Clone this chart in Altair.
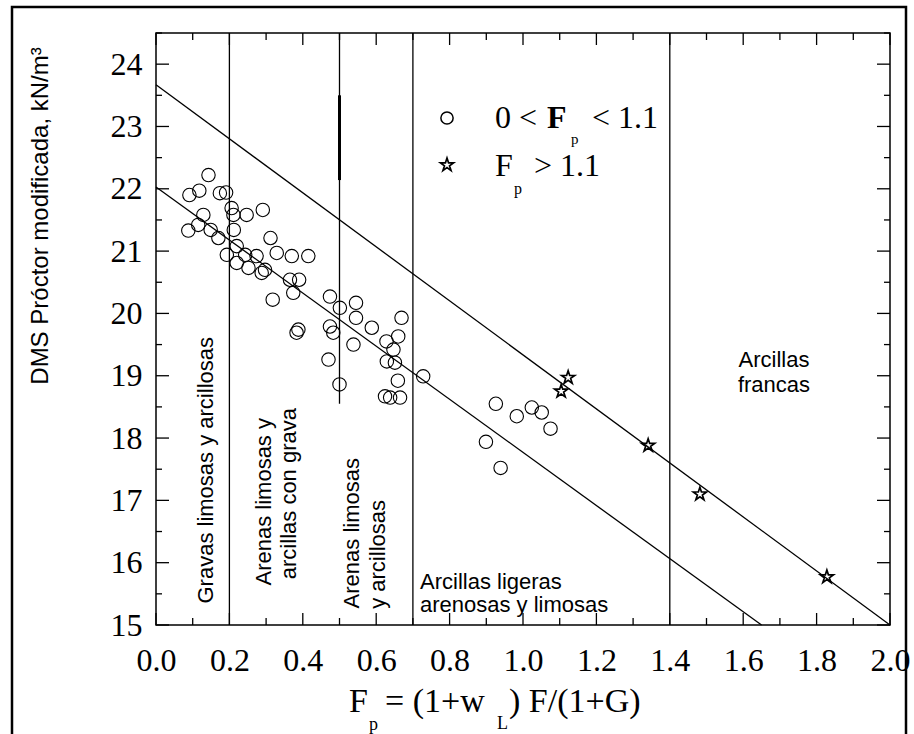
import altair as alt
import pandas as pd

# ---- data ----
circle_x = [0.143, 0.091, 0.118, 0.174, 0.191, 0.129, 0.088, 0.115, 0.149, 0.170,
            0.206, 0.211, 0.247, 0.291, 0.212, 0.193, 0.220, 0.220, 0.243, 0.252,
            0.274, 0.288, 0.297, 0.312, 0.329, 0.370, 0.415, 0.365, 0.390, 0.374,
            0.318, 0.474, 0.501, 0.545, 0.545, 0.669, 0.588, 0.474, 0.483, 0.388,
            0.383, 0.628, 0.660, 0.538, 0.470, 0.500, 0.647, 0.629, 0.651, 0.659,
            0.624, 0.638, 0.665, 0.728, 0.926, 0.899, 0.939, 0.983, 1.024, 1.051,
            1.075]
circle_y = [22.22, 21.90, 21.97, 21.93, 21.94, 21.58, 21.33, 21.42, 21.34, 21.21,
            21.69, 21.58, 21.58, 21.66, 21.34, 20.94, 21.08, 20.81, 20.94, 20.73,
            20.92, 20.65, 20.70, 21.21, 20.97, 20.92, 20.92, 20.54, 20.54, 20.33,
            20.22, 20.27, 20.09, 20.17, 19.93, 19.93, 19.77, 19.79, 19.69, 19.74,
            19.69, 19.55, 19.63, 19.50, 19.26, 18.86, 19.42, 19.23, 19.21, 18.92,
            18.67, 18.65, 18.65, 18.99, 18.55, 17.94, 17.52, 18.35, 18.49, 18.41,
            18.15]
star_x = [1.123, 1.104, 1.341, 1.482, 1.828]
star_y = [18.97, 18.75, 17.88, 17.10, 15.77]

upper_fit_x = [0.0, 2.0]
upper_fit_y = [23.67, 15.0]
lower_fit_x = [0.0, 1.65]
lower_fit_y = [22.03, 15.0]

zone_x = [0.2, 0.7, 1.4]
partial_x = [0.5]
partial_y0 = [18.55]
partial_y1 = [24.5]
thick_y0 = [22.14]
thick_y1 = [23.5]

x_ticks = [0.0, 0.2, 0.4, 0.6, 0.8, 1.0, 1.2, 1.4, 1.6, 1.8, 2.0]
x_minor = [0.1, 0.3, 0.5, 0.7, 0.9, 1.1, 1.3, 1.5, 1.7, 1.9]
y_ticks = [15, 16, 17, 18, 19, 20, 21, 22, 23, 24]
y_minor = [15.5, 16.5, 17.5, 18.5, 19.5, 20.5, 21.5, 22.5, 23.5, 24.5]

W, H = 734, 592
L, T = 156, 33
SERIF = "Liberation Serif"
SANS = "Liberation Sans"
STAR = ("M0,-1L0.2245,-0.309L0.9511,-0.309L0.3633,0.118L0.5878,0.809L0,0.382"
        "L-0.5878,0.809L-0.3633,0.118L-0.9511,-0.309L-0.2245,-0.309Z")

xs = alt.Scale(domain=[0, 2], nice=False, zero=False)
ys = alt.Scale(domain=[15, 24.5], nice=False, zero=False)

base_axes = alt.Chart(pd.DataFrame({"x": [0.0, 2.0], "y": [15.0, 24.5]})).mark_point(
    opacity=0, size=1
).encode(
    x=alt.X("x:Q", scale=xs, axis=alt.Axis(values=x_ticks, format=".1f", title=None, orient="bottom",
            ticks=False, domain=False, grid=False, labelFont=SERIF, labelFontSize=32,
            labelColor="black", labelPadding=20, labelFlush=False, labelOverlap=False)),
    y=alt.Y("y:Q", scale=ys, axis=alt.Axis(values=y_ticks, format="d", title=None, orient="left",
            ticks=False, domain=False, grid=False, labelFont=SERIF, labelFontSize=32,
            labelColor="black", labelPadding=14, labelFlush=False, labelOverlap=False)),
)

circles = alt.Chart(pd.DataFrame({"x": circle_x, "y": circle_y})).mark_point(
    shape="circle", size=180, filled=False, color="black", strokeWidth=1.1, opacity=1
).encode(x=alt.X("x:Q", scale=xs), y=alt.Y("y:Q", scale=ys))

stars = alt.Chart(pd.DataFrame({"x": star_x, "y": star_y})).mark_point(
    shape=STAR, size=190, filled=False, color="black", strokeWidth=1.7, opacity=1
).encode(x=alt.X("x:Q", scale=xs), y=alt.Y("y:Q", scale=ys))

upper = alt.Chart(pd.DataFrame({"x": upper_fit_x, "y": upper_fit_y})).mark_line(
    color="black", strokeWidth=1.3).encode(x=alt.X("x:Q", scale=xs), y=alt.Y("y:Q", scale=ys))
lower = alt.Chart(pd.DataFrame({"x": lower_fit_x, "y": lower_fit_y})).mark_line(
    color="black", strokeWidth=1.3).encode(x=alt.X("x:Q", scale=xs), y=alt.Y("y:Q", scale=ys))

zones = alt.Chart(pd.DataFrame({"x": zone_x})).mark_rule(color="black", strokeWidth=1.3).encode(
    x=alt.X("x:Q", scale=xs), y=alt.value(0), y2=alt.value(H))
partial = alt.Chart(pd.DataFrame({"x": partial_x, "y0": partial_y0, "y1": partial_y1})).mark_rule(
    color="black", strokeWidth=1.3).encode(
    x=alt.X("x:Q", scale=xs), y=alt.Y("y0:Q", scale=ys), y2="y1:Q")
thick = alt.Chart(pd.DataFrame({"x": partial_x, "y0": thick_y0, "y1": thick_y1})).mark_rule(
    color="black", strokeWidth=3).encode(
    x=alt.X("x:Q", scale=xs), y=alt.Y("y0:Q", scale=ys), y2="y1:Q")


def xtick_layer(vals, length, top):
    ya, yb = (0, length) if top else (H, H - length)
    return alt.Chart(pd.DataFrame({"v": vals})).mark_rule(color="black", strokeWidth=1.3).encode(
        x=alt.X("v:Q", scale=xs), y=alt.value(ya), y2=alt.value(yb))


def ytick_layer(vals, length, right):
    xa, xb = (W, W - length) if right else (0, length)
    return alt.Chart(pd.DataFrame({"v": vals})).mark_rule(color="black", strokeWidth=1.3).encode(
        y=alt.Y("v:Q", scale=ys), x=alt.value(xa), x2=alt.value(xb))


ticks = [xtick_layer(x_ticks, 12, False), xtick_layer(x_minor, 7, False),
         xtick_layer(x_ticks, 12, True), xtick_layer(x_minor, 7, True),
         ytick_layer(y_ticks, 13, False), ytick_layer(y_minor, 6, False),
         ytick_layer(y_ticks, 13, True), ytick_layer(y_minor, 6, True)]


def txt(s, px, py, size=22, font=SANS, angle=0, align="left", baseline="alphabetic", weight="normal"):
    return alt.Chart(pd.DataFrame({"t": [s]})).mark_text(
        font=font, fontSize=size, angle=angle, align=align, baseline=baseline,
        fontWeight=weight, color="black").encode(
        text="t:N", x=alt.value(px - L), y=alt.value(py - T))


labels = [
    # rotated zone labels, anchored at their top end
    txt("Gravas limosas y arcillosas", 206, 337, angle=270, align="right", baseline="middle"),
    txt("Arenas limosas y", 264, 418, angle=270, align="right", baseline="middle"),
    txt("arcillas con grava", 289, 408, angle=270, align="right", baseline="middle"),
    txt("Arenas limosas", 352, 458, angle=270, align="right", baseline="middle"),
    txt("y arcillosas", 378, 500, angle=270, align="right", baseline="middle"),
    txt("Arcillas ligeras", 420, 589),
    txt("arenosas y limosas", 420, 612),
    txt("Arcillas", 774, 367, align="center"),
    txt("francas", 774, 392, align="center"),
    # y title
    txt("DMS Próctor modificada, kN/m³", 41, 216, size=24, angle=270, align="center", baseline="middle"),
    # x title
    txt("F", 349, 712, size=34, font=SERIF),
    txt("p", 369, 730, size=18, font=SERIF),
    txt("= (1+w", 385, 712, size=34, font=SERIF),
    txt("L", 497, 729, size=18, font=SERIF),
    txt(") F/(1+G)", 509, 712, size=34, font=SERIF),
    # legend
    txt("0 <", 495, 128, size=32, font=SERIF),
    txt("F", 547, 128, size=32, font=SERIF, weight="bold"),
    txt("p", 571, 144, size=15, font=SERIF),
    txt("< 1.1", 592, 128, size=32, font=SERIF),
    txt("F", 495, 176, size=32, font=SERIF),
    txt("p", 514, 194, size=16, font=SERIF),
    txt("> 1.1", 534, 176, size=32, font=SERIF),
]

leg_c = alt.Chart(pd.DataFrame({"t": ["c"]})).mark_point(
    shape="circle", size=150, filled=False, color="black", strokeWidth=1.5, opacity=1).encode(
    x=alt.value(447 - L), y=alt.value(118 - T))
leg_s = alt.Chart(pd.DataFrame({"t": ["s"]})).mark_point(
    shape=STAR, size=190, filled=False, color="black", strokeWidth=1.7, opacity=1).encode(
    x=alt.value(447 - L), y=alt.value(165 - T))

frame = alt.Chart(pd.DataFrame({"t": ["f"]})).mark_rect(
    fillOpacity=0, stroke="black", strokeWidth=2.5, clip=False).encode(
    x=alt.value(12 - L), x2=alt.value(906 - L), y=alt.value(7 - T), y2=alt.value(760 - T))

chart = alt.layer(
    base_axes, frame, zones, partial, thick, upper, lower, *ticks, circles, stars, leg_c, leg_s, *labels
).properties(
    width=W, height=H, autosize=alt.AutoSizeParams(type="none"),
    padding={"left": L, "top": T, "right": 914 - L - W, "bottom": 734 - T - H},
    background="white",
).configure_view(stroke="black", strokeWidth=1.5)

chart.save("out.html", embed_options={"renderer": "svg", "actions": False})
